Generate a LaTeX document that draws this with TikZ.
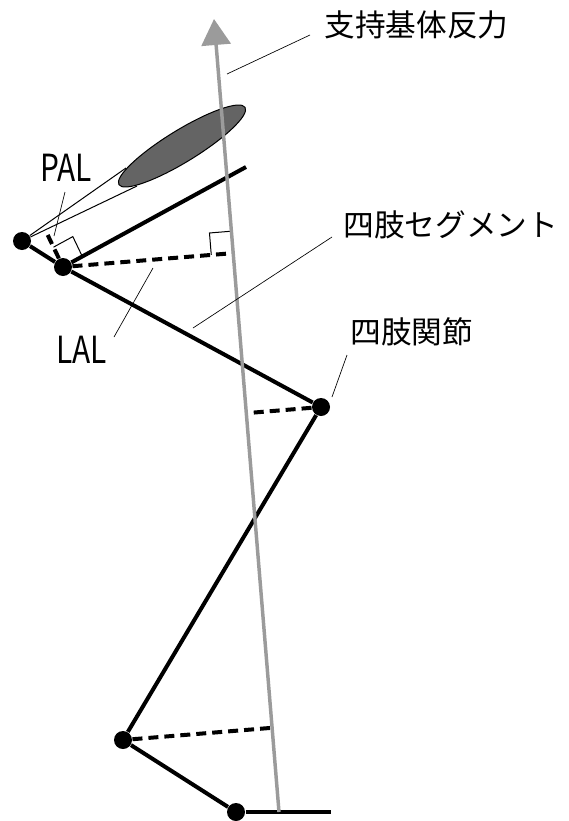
\documentclass[tikz,border=0pt]{standalone}
\usepackage{fontspec}
\setmainfont{Noto Sans CJK JP}
\usepackage{graphicx}
\usetikzlibrary{calc,arrows.meta}

\tikzset{every picture/.style={line width=0.75pt}}
\tikzset{
  joint/.style={circle,fill=black,inner sep=0pt,minimum size=13.5pt},
  limb/.style={line width=3pt},
  perpline/.style={line width=3pt,dash pattern=on 7.5pt off 4.5pt},
  leader/.style={line width=0.5pt},
  grfline/.style={color={rgb, 255:red, 155; green, 155; blue, 155},line width=2.6pt},
  jlabel/.style={anchor=west,inner sep=0pt,font=\fontsize{23}{28}\selectfont},
  llabel/.style={anchor=west,inner sep=0pt,font=\fontsize{28}{32}\selectfont},
}

\begin{document}
\begin{tikzpicture}[x=0.75pt,y=0.75pt,yscale=-1,xscale=1]
\useasboundingbox (0,0) rectangle (568,821);

% Joints
\node[joint] (j0) at (22,241) {};
\node[joint] (j1) at (63,267) {};
\node[joint] (j2) at (321,407) {};
\node[joint] (j3) at (123,740) {};
\node[joint] (j4) at (236,812) {};

\coordinate (segend) at (246,167);
\coordinate (footend) at (331,812);
\coordinate (grfbase) at (279,812);
\coordinate (grftip) at (214,19);
\coordinate (coneA) at (126,168);
\coordinate (coneB) at (137,186);

%Straight Lines
\draw (j0) -- (coneA) ;
\draw (j0) -- (coneB) ;
%Shape: Ellipse
\draw [fill={rgb, 255:red, 100; green, 100; blue, 100 }, rotate around={-31.5:(182,146)}] (182,146) ellipse [x radius=74, y radius=16] ;

%Straight Lines
\draw [limb] (j0) -- (j1) ;
\draw [limb] (j1) -- (segend) ;
\draw [limb] (j1) -- (j2) ;
\draw [limb] (j2) -- (j3) ;
\draw [limb] (j3) -- (j4) ;
\draw [limb] (j4) -- (footend) ;

% feet of the perpendiculars
\coordinate (palfoot) at ($(j0)!(j1)!(coneB)$);
\coordinate (lalfoot) at ($(grfbase)!(j1)!(grftip)$);
\coordinate (kneefoot) at ($(grfbase)!(j2)!(grftip)$);
\coordinate (anklefoot) at ($(grfbase)!(j3)!(grftip)$);

%Dashed Lines
\draw [perpline] (j1) -- (palfoot) ;
\draw [perpline] (j1) -- (lalfoot) ;
\draw [perpline] (j2) -- (kneefoot) ;
\draw [perpline] (j3) -- (anklefoot) ;

% Right angles
\coordinate (ra1) at ($(j1)!16.5pt!(palfoot)$);
\coordinate (ra2) at ($(j1)!16.5pt!(segend)$);
\draw (ra1) -- ($(ra1)+(ra2)-(j1)$) -- (ra2) ;
\coordinate (rb1) at ($(lalfoot)!16.5pt!(j1)$);
\coordinate (rb2) at ($(lalfoot)!16.5pt!(grftip)$);
\draw (rb1) -- ($(rb1)+(rb2)-(lalfoot)$) -- (rb2) ;

% Ground reaction force
\draw [grfline, -{Triangle[length=19.5pt,width=21.75pt]}] (grfbase) -- (grftip) ;

% Text Node
\node [jlabel] (grflabel) at (324,25) {支持基体反力};
% Text Node
\node [jlabel] (seglabel) at (343,225) {四肢セグメント};
% Text Node
\node [jlabel] (jointlabel) at (350,332) {四肢関節};
% Text Node
\node [llabel] (pallabel) at (40,168) {\scalebox{0.8}[1]{PAL}};
% Text Node
\node [llabel] (lallabel) at (56,350) {\scalebox{0.8}[1]{LAL}};

%Leader Lines
\coordinate (grfl1) at (227,74);   \coordinate (grfl2) at (310,35);
\coordinate (segl1) at (193,328);  \coordinate (segl2) at (332,237);
\coordinate (jntl1) at (332,397);  \coordinate (jntl2) at (347,355);
\coordinate (pall1) at (65,192);   \coordinate (pall2) at (54,236);
\coordinate (lall1) at (114,337);  \coordinate (lall2) at (153,268);
\draw [leader] (grfl1) -- (grfl2) ;
\draw [leader] (segl1) -- (segl2) ;
\draw [leader] (jntl1) -- (jntl2) ;
\draw [leader] (pall1) -- (pall2) ;
\draw [leader] (lall1) -- (lall2) ;

\end{tikzpicture}
\end{document}
